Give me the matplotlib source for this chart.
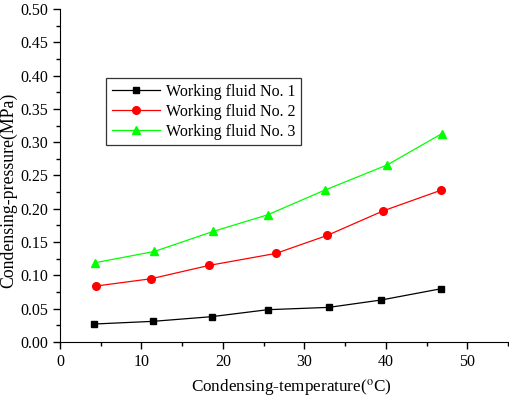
import matplotlib
matplotlib.use("Agg")
import matplotlib.pyplot as plt
from matplotlib.ticker import MultipleLocator

plt.rcParams['font.family'] = ['Liberation Serif', 'DejaVu Serif']
plt.rcParams['mathtext.fontset'] = 'stix'

# data
t1 = [4.2, 11.4, 18.6, 25.5, 33.0, 39.4, 46.8]
p1 = [0.027, 0.031, 0.038, 0.0485, 0.052, 0.063, 0.080]

t2 = [4.4, 11.2, 18.3, 26.5, 32.8, 39.7, 46.8]
p2 = [0.084, 0.095, 0.115, 0.133, 0.160, 0.197, 0.228]

t3 = [4.3, 11.6, 18.8, 25.5, 32.5, 40.2, 46.9]
p3 = [0.119, 0.136, 0.166, 0.191, 0.228, 0.266, 0.313]

labels = ["Working fluid No. 1", "Working fluid No. 2", "Working fluid No. 3"]

fig = plt.figure(figsize=(5.09, 3.98), dpi=100)
ax = fig.add_axes([60 / 509, 56 / 398, 448 / 509, 333 / 398])

ax.plot(t1, p1, color='black', marker='s', markersize=5, lw=0.9, label=labels[0])
ax.plot(t2, p2, color='red', marker='o', markersize=5.5, lw=0.9, label=labels[1])
ax.plot(t3, p3, color='#00ff00', marker='^', markersize=6, lw=0.9, label=labels[2])

ax.set_xlim(0, 55)
ax.set_ylim(0, 0.5)
ax.xaxis.set_major_locator(MultipleLocator(10))
ax.xaxis.set_minor_locator(MultipleLocator(5))
ax.yaxis.set_major_locator(MultipleLocator(0.05))
ax.yaxis.set_minor_locator(MultipleLocator(0.025))
ax.yaxis.set_major_formatter(matplotlib.ticker.FormatStrFormatter('%.2f'))

ax.spines['top'].set_visible(False)
ax.spines['right'].set_visible(False)
ax.tick_params(which='major', direction='out', length=5, width=1, labelsize=11.5)
ax.tick_params(which='minor', direction='out', length=3, width=1)

# axis titles placed where the reference has them
fig.text(291 / 509, 1 - 388 / 398, r'Condensing-temperature($^{\rm o}$C)',
         fontsize=12.3, ha='center', va='center')
fig.text(9 / 509, 1 - 190 / 398, 'Condensing-pressure(MPa)',
         fontsize=12.8, rotation=90, ha='center', va='center')

leg = ax.legend(loc='upper left', bbox_to_anchor=(46 / 448, (342 - 78) / 333),
                fontsize=11.5, frameon=True, fancybox=False, edgecolor='black',
                handlelength=3.0, borderpad=0.35, labelspacing=0.25, handletextpad=0.4,
                borderaxespad=0)
leg.get_frame().set_linewidth(0.9)

fig.savefig('out.png', dpi=100)
